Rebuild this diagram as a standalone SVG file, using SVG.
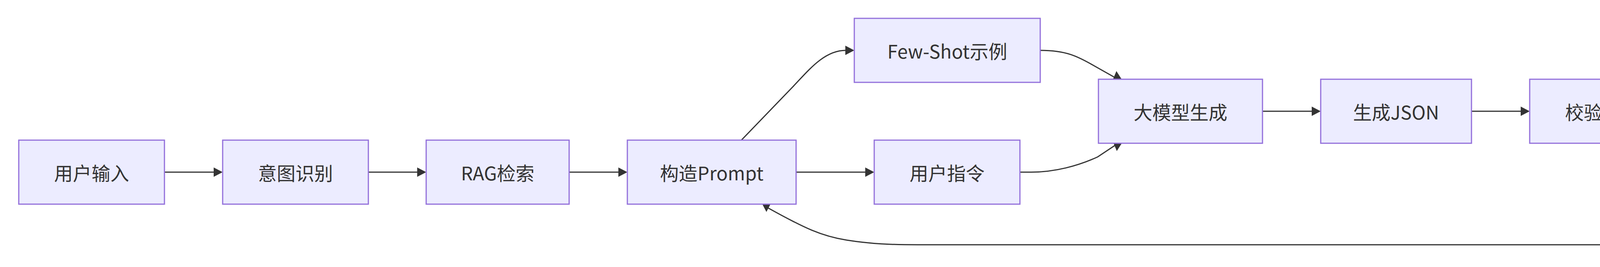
<svg xmlns="http://www.w3.org/2000/svg" xmlns:xlink="http://www.w3.org/1999/xlink" width="4835" height="684" viewBox="0 0 4835 684">
<style>
.node rect{fill:#ECECFF;stroke:#9370DB;stroke-width:3}
.node text,.elabel text{font-family:"Noto Sans CJK SC","Noto Sans",sans-serif;font-size:48px;fill:#333333;text-anchor:middle;dominant-baseline:central}
.edge{fill:none;stroke:#333333;stroke-width:3}
.elabel rect{fill:#E8E8E8;opacity:0.8}
</style>
<defs>
<path id="ah" d="M0,0 L-23,-12 L-23,12 Z" fill="#333333"/>
</defs>
<rect x="0" y="0" width="4835" height="684" fill="#FFFFFF"/>
<g id="connectors">
<path class="edge" d="M421,441 H565"/>
<path class="edge" d="M943,441 H1085"/>
<path class="edge" d="M1457,441 H1600"/>
<path class="edge" d="M2038,441 H2232"/>
<path class="edge" d="M1898,359 L2030,222 C2070,180 2110,129 2165,129 H2180"/>
<path class="edge" d="M2663,129 C2730,129 2760,145 2800,168 L2862,203"/>
<path class="edge" d="M2611,441 L2640,441 C2700,441 2760,425 2810,402 L2864,366"/>
<path class="edge" d="M3232,285 H3375"/>
<path class="edge" d="M3767,285 H3910"/>
<path class="edge" d="M4193,250 L4270,231.5 Q4322,219 4370,219 H4432"/>
<path class="edge" d="M4160,367 L4290,459 Q4328,486 4370,500.6 L4432,522"/>
<path class="edge" d="M4438,608 C4380,620 4300,627 4200,627 L2350,627 C2280,627 2230,625 2167,615 S2060,585 1965,532 L1962,524"/>
<use xlink:href="#ah" transform="translate(570,441)"/>
<use xlink:href="#ah" transform="translate(1091,441)"/>
<use xlink:href="#ah" transform="translate(1606,441)"/>
<use xlink:href="#ah" transform="translate(2238,441)"/>
<use xlink:href="#ah" transform="translate(2187,129)"/>
<use xlink:href="#ah" transform="translate(2858,182) rotate(-95)"/>
<use xlink:href="#ah" transform="translate(2859,387) rotate(95)"/>
<use xlink:href="#ah" transform="translate(3381,285)"/>
<use xlink:href="#ah" transform="translate(3916,285)"/>
<use xlink:href="#ah" transform="translate(4438,219)"/>
<use xlink:href="#ah" transform="translate(4438,524) rotate(19)"/>
<use xlink:href="#ah" transform="translate(1962,543) rotate(90)"/>
</g>
<g id="edge-labels">
<g class="elabel" id="label-pass"><rect x="4268" y="183" width="96" height="72"/><text x="4316" y="219">通过</text></g>
<g class="elabel" id="label-fail"><rect x="4268" y="450" width="96" height="72"/><text x="4316" y="486">失败</text></g>
</g>
<g id="node-input" class="node"><rect x="48" y="359" width="373" height="164"/><text x="234.5" y="441">用户输入</text></g>
<g id="node-intent" class="node"><rect x="570" y="359" width="373" height="164"/><text x="756.5" y="441">意图识别</text></g>
<g id="node-rag" class="node"><rect x="1091" y="359" width="366" height="164"/><text x="1274" y="441">RAG检索</text></g>
<g id="node-prompt" class="node"><rect x="1606" y="359" width="432" height="164"/><text x="1822" y="441">构造Prompt</text></g>
<g id="node-fewshot" class="node"><rect x="2187" y="47" width="476" height="164"/><text x="2425" y="129">Few-Shot示例</text></g>
<g id="node-userinst" class="node"><rect x="2238" y="359" width="373" height="164"/><text x="2424.5" y="441">用户指令</text></g>
<g id="node-llm" class="node"><rect x="2812" y="203" width="420" height="164"/><text x="3022" y="285">大模型生成</text></g>
<g id="node-json" class="node"><rect x="3381" y="203" width="386" height="164"/><text x="3574" y="285">生成JSON</text></g>
<g id="node-check" class="node"><rect x="3916" y="203" width="277" height="164"/><text x="4054.5" y="285">校验</text></g>
<g id="node-dispatch" class="node"><rect x="4438" y="137" width="374" height="164"/><text x="4625" y="219">下发指令</text></g>
<g id="node-error" class="node"><rect x="4438" y="498" width="374" height="164"/><text x="4625" y="580">错误处理</text></g>
</svg>
